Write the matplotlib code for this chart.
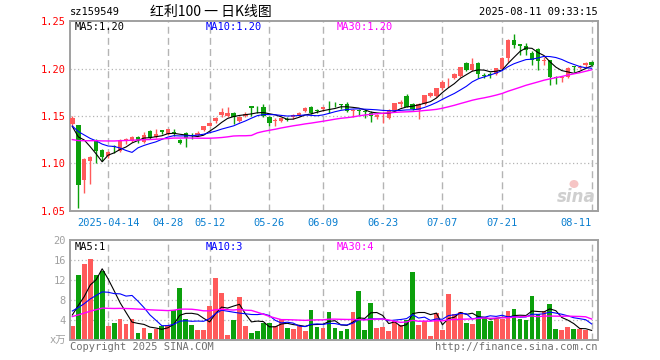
import numpy as np
import matplotlib
matplotlib.use('Agg')
import matplotlib.pyplot as plt
from matplotlib.patches import Ellipse

W, H = 660, 360

# daily K data, 2025-04-03 .. 2025-08-11 (88 trading days)
opens = [1.142, 1.141, 1.083, 1.103, 1.125, 1.114, 1.108, 1.118, 1.113, 1.124,
         1.124, 1.128, 1.123, 1.134, 1.128, 1.135, 1.131, 1.133, 1.125, 1.132,
         1.130, 1.130, 1.135, 1.140, 1.145, 1.151, 1.150, 1.153, 1.145, 1.150,
         1.160, 1.160, 1.160, 1.149, 1.145, 1.145, 1.147, 1.1485, 1.151, 1.155,
         1.160, 1.156, 1.157, 1.160, 1.164, 1.163, 1.163, 1.155, 1.156, 1.1555,
         1.1535, 1.149, 1.152, 1.1475, 1.156, 1.163, 1.171, 1.163, 1.156, 1.163,
         1.171, 1.171, 1.179, 1.1875, 1.190, 1.192, 1.2056, 1.198, 1.206, 1.1935,
         1.194, 1.194, 1.200, 1.211, 1.2298, 1.2255, 1.224, 1.2158, 1.221, 1.208,
         1.2088, 1.1908, 1.190, 1.191, 1.2025, 1.201, 1.2035, 1.207]
highs = [1.150, 1.141, 1.106, 1.108, 1.126, 1.115, 1.113, 1.119, 1.126, 1.127,
         1.129, 1.129, 1.133, 1.135, 1.136, 1.135, 1.136, 1.136, 1.126, 1.133,
         1.132, 1.134, 1.140, 1.144, 1.149, 1.158, 1.160, 1.154, 1.150, 1.154,
         1.161, 1.161, 1.163, 1.150, 1.1475, 1.148, 1.149, 1.152, 1.154, 1.159,
         1.161, 1.157, 1.160, 1.166, 1.165, 1.163, 1.165, 1.157, 1.157, 1.157,
         1.155, 1.152, 1.1545, 1.157, 1.164, 1.167, 1.173, 1.164, 1.164, 1.172,
         1.175, 1.180, 1.188, 1.1895, 1.195, 1.202, 1.207, 1.211, 1.207, 1.195,
         1.1965, 1.201, 1.212, 1.231, 1.236, 1.2255, 1.2265, 1.218, 1.222, 1.212,
         1.209, 1.192, 1.192, 1.202, 1.203, 1.204, 1.2065, 1.208]
lows = [1.140, 1.053, 1.069, 1.078, 1.100, 1.103, 1.106, 1.111, 1.112, 1.120,
        1.123, 1.122, 1.122, 1.126, 1.127, 1.131, 1.130, 1.129, 1.121, 1.117,
        1.126, 1.129, 1.134, 1.139, 1.143, 1.149, 1.149, 1.142, 1.144, 1.149,
        1.150, 1.153, 1.149, 1.140, 1.140, 1.144, 1.145, 1.147, 1.150, 1.154,
        1.152, 1.153, 1.155, 1.1535, 1.160, 1.157, 1.154, 1.149, 1.151, 1.1475,
        1.144, 1.147, 1.143, 1.147, 1.155, 1.160, 1.159, 1.156, 1.147, 1.162,
        1.170, 1.170, 1.177, 1.181, 1.189, 1.191, 1.197, 1.197, 1.1895, 1.1895,
        1.1905, 1.193, 1.199, 1.207, 1.222, 1.2147, 1.214, 1.2035, 1.198, 1.2035,
        1.183, 1.184, 1.186, 1.190, 1.1965, 1.1995, 1.201, 1.203]
closes = [1.148, 1.077, 1.105, 1.107, 1.113, 1.107, 1.112, 1.117, 1.125, 1.126,
          1.128, 1.125, 1.130, 1.127, 1.131, 1.133, 1.136, 1.132, 1.122, 1.127,
          1.129, 1.132, 1.139, 1.143, 1.148, 1.154, 1.153, 1.149, 1.149, 1.152,
          1.158, 1.159, 1.150, 1.143, 1.146, 1.1475, 1.146, 1.151, 1.153, 1.158,
          1.153, 1.155, 1.159, 1.159, 1.1635, 1.162, 1.155, 1.156, 1.155, 1.1545,
          1.150, 1.151, 1.153, 1.156, 1.1635, 1.165, 1.160, 1.157, 1.163, 1.172,
          1.1737, 1.179, 1.186, 1.188, 1.1937, 1.2017, 1.198, 1.2046, 1.1947, 1.1925,
          1.193, 1.2007, 1.211, 1.2298, 1.2245, 1.224, 1.219, 1.2088, 1.2077, 1.209,
          1.1912, 1.1905, 1.1905, 1.201, 1.2015, 1.2018, 1.2056, 1.204]
volumes = [2.9, 13.0, 15.2, 16.2, 13.0, 13.8, 2.8, 3.5, 4.2, 3.2,
           4.2, 1.5, 2.5, 1.5, 2.3, 2.9, 3.0, 6.0, 10.5, 4.2,
           3.0, 2.0, 2.0, 6.9, 12.5, 9.5, 1.0, 4.0, 8.7, 2.9,
           1.5, 1.8, 3.5, 3.5, 2.9, 4.3, 2.5, 2.2, 2.8, 1.8,
           6.0, 2.7, 2.4, 5.7, 2.5, 1.8, 2.2, 5.7, 9.9, 2.0,
           7.4, 2.5, 2.7, 1.8, 3.8, 3.0, 4.0, 13.7, 3.0, 3.8,
           0.9, 5.5, 2.0, 9.2, 5.2, 5.7, 3.5, 3.2, 5.8, 4.5,
           3.8, 4.3, 4.3, 5.8, 6.2, 4.2, 4.0, 8.8, 5.3, 5.8,
           7.2, 2.2, 2.0, 2.7, 2.3, 2.3, 2.0, 0.3]

# 29 sessions before the window (only used to start the moving averages)
pre_closes = [1.108, 1.110, 1.106, 1.112, 1.115, 1.113, 1.118, 1.116, 1.120, 1.119,
              1.117, 1.121, 1.123, 1.120, 1.122, 1.125, 1.118, 1.121, 1.124, 1.132,
              1.136, 1.141, 1.143, 1.139, 1.141, 1.132, 1.1215, 1.142, 1.1515]
pre_volumes = [3.5, 4.2, 5.0, 3.8, 4.6, 3.9, 4.4, 3.6, 4.1, 5.2,
               3.7, 4.0, 4.5, 3.9, 4.3, 4.8, 3.6, 4.2, 3.9, 3.8,
               6.0, 7.5, 6.8, 5.9, 6.8, 3.5, 6.2, 4.7, 7.7]

tick_idx = [6, 16, 23, 33, 42, 52, 62, 72, 87]
tick_labels = ['2025-04-14', '04-28', '05-12', '05-26', '06-09', '06-23',
               '07-07', '07-21', '08-11']

RED = '#ff5a5a'
GREEN = '#0ca00c'
GRID = '#b4b4b4'
MONO = 'DejaVu Sans Mono'


def ma(series, pre, n):
    s = np.array(list(pre) + list(series))
    return np.convolve(s, np.ones(n) / n, mode='valid')[-len(series):]


o = np.array(opens); h = np.array(highs); l = np.array(lows); c = np.array(closes)
v = np.array(volumes)
x = np.arange(len(c))
up = c >= o
cols = np.where(up, RED, GREEN)

fig = plt.figure(figsize=(W / 100, H / 100), dpi=100)
ax = fig.add_axes([70 / W, 1 - 211 / H, 528 / W, 190 / H])
axv = fig.add_axes([70 / W, 1 - 340 / H, 528 / W, 100 / H])

xlim = (-0.39, 88.06)
for a in (ax, axv):
    a.set_xlim(*xlim)
    for s in a.spines.values():
        s.set_color('#a0a0a0')
        s.set_linewidth(1.4)
    for t in tick_idx:
        a.axvline(t, color=GRID, lw=1, ls=(0, (5, 3)), zorder=0)
    a.tick_params(length=0)

# price panel
ax.set_ylim(1.05, 1.25)
for y in (1.10, 1.15, 1.20):
    ax.axhline(y, color=GRID, lw=0.9, ls=(0, (1, 2)), zorder=0)
ax.vlines(x, l, h, colors=cols, lw=1, zorder=2)
body = np.maximum(np.abs(c - o), 0.0007)
ax.bar(x, body, bottom=np.minimum(o, c), width=0.74, color=cols, lw=0, zorder=3)

m5 = ma(c, pre_closes, 5)
m10 = ma(c, pre_closes, 10)
m30 = ma(c, pre_closes, 30)
ax.plot(x, m5, color='black', lw=0.8, zorder=4)
ax.plot(x, m10, color='#0000ff', lw=0.8, zorder=4)
ax.plot(x, m30, color='#ff00ff', lw=1.0, zorder=4)

ax.set_yticks([1.05, 1.10, 1.15, 1.20, 1.25])
ax.set_yticklabels(['1.05', '1.10', '1.15', '1.20', '1.25'], color='red',
                   family=MONO, fontsize=7.5)
ax.tick_params(axis='y', pad=3)
ax.set_xticks(tick_idx)
ax.set_xticklabels(tick_labels, color='#0a7fd0', family=MONO, fontsize=7.5)
ax.tick_params(axis='x', pad=5)
ax.get_xticklabels()[-1].set_ha('right')

# volume panel
axv.set_ylim(0, 20)
for y in (4, 8, 12, 16):
    axv.axhline(y, color=GRID, lw=0.9, ls=(0, (1, 2)), zorder=0)
axv.bar(x, v, width=0.8, color=cols, lw=0, zorder=2)
vm5 = ma(v, pre_volumes, 5)
vm10 = ma(v, pre_volumes, 10)
vm30 = ma(v, pre_volumes, 30)
axv.plot(x, vm5, color='black', lw=0.8, zorder=4)
axv.plot(x, vm10, color='#0000ff', lw=0.8, zorder=4)
axv.plot(x, vm30, color='#ff00ff', lw=1.0, zorder=4)
axv.set_xticks([])
axv.set_yticks([0, 4, 8, 12, 16, 20])
axv.set_yticklabels(['x万', '4', '8', '12', '16', '20'], color='#a0a0a0',
                    family=[MONO, 'Noto Sans CJK SC'], fontsize=7.5)
axv.tick_params(axis='y', pad=3)


def ftext(px, py, s, **kw):
    fig.text(px / W, 1 - py / H, s, va='center', **kw)


ftext(70, 12, 'sz159549', family=MONO, fontsize=7.5)
ftext(150, 12, '红利100 一 日K线图', family=['Noto Sans CJK SC', 'DejaVu Sans'], fontsize=10)
ftext(598, 12, '2025-08-11 09:33:15', family=MONO, fontsize=7.5, ha='right')

ftext(75, 27, 'MA5:%.2f' % m5[-1], family=MONO, fontsize=7.5, color='black')
ftext(206, 27, 'MA10:%.2f' % m10[-1], family=MONO, fontsize=7.5, color='#0000ff')
ftext(337, 27, 'MA30:%.2f' % m30[-1], family=MONO, fontsize=7.5, color='#ff00ff')

ftext(75, 247, 'MA5:%d' % int(vm5[-1]), family=MONO, fontsize=7.5, color='black')
ftext(206, 247, 'MA10:%d' % int(vm10[-1]), family=MONO, fontsize=7.5, color='#0000ff')
ftext(337, 247, 'MA30:%d' % int(vm30[-1]), family=MONO, fontsize=7.5, color='#ff00ff')

ftext(70, 347, 'Copyright 2025 SINA.COM', family=MONO, fontsize=7.5, color='#707070')
ftext(598, 347, 'http://finance.sina.com.cn', family=MONO, fontsize=7.5,
      color='#707070', ha='right')

# sina watermark
ftext(576, 197, 'sina', family='DejaVu Sans', fontsize=12, fontweight='bold',
      style='italic', color='#cfcfcf', ha='center')
fig.add_artist(Ellipse((574 / W, 1 - 184 / H), 9 / W, 8 / H,
                       transform=fig.transFigure, color='#f6c4c4', lw=0))

fig.savefig('out.png', dpi=100)
